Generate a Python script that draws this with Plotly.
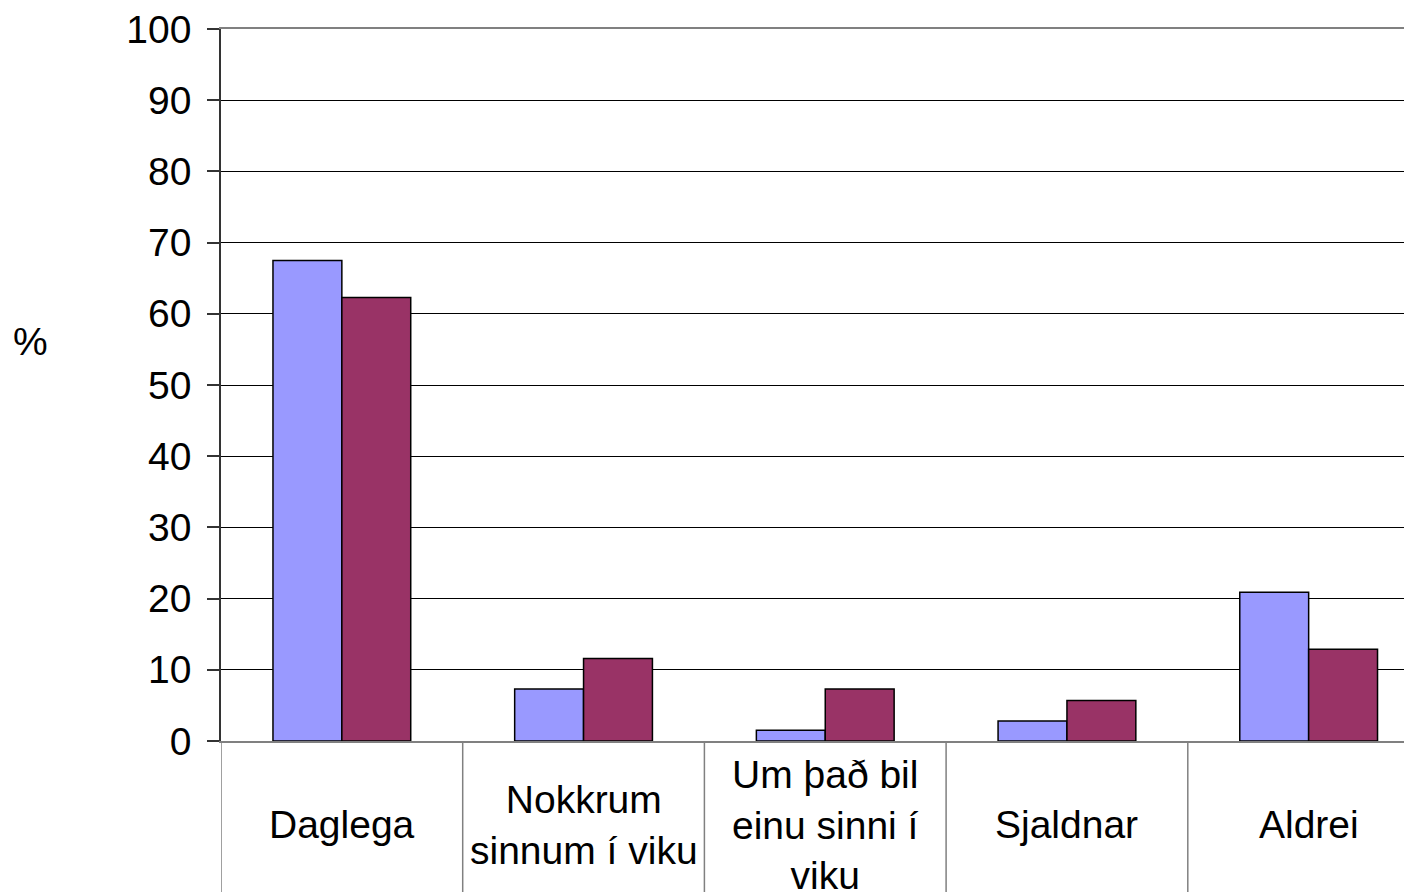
import plotly.graph_objects as go

categories = ["Daglega", "Nokkrum<br>sinnum í viku", "Um það bil<br>einu sinni í<br>viku", "Sjaldnar", "Aldrei"]
series_a = [67.5, 7.3, 1.5, 2.8, 20.9]
series_b = [62.3, 11.6, 7.3, 5.7, 12.9]
y_ticks = [0, 10, 20, 30, 40, 50, 60, 70, 80, 90, 100]

FONT = "Liberation Sans, Arial, sans-serif"
W, H = 1412, 892
OFF = 8  # page body margin
ML, MT = 221 - OFF, 27 - OFF
MB = H - (741 - OFF)
plot_h = H - MT - MB
plot_w = W - ML
cat_w = 241.7

xs = list(range(len(categories)))

fig = go.Figure()
fig.add_trace(go.Bar(x=xs, y=series_a, marker=dict(color="#9999FF", line=dict(color="#000000", width=1.5)), name="A"))
fig.add_trace(go.Bar(x=xs, y=series_b, marker=dict(color="#993366", line=dict(color="#000000", width=1.5)), name="B"))

x_max = -0.5 + plot_w / cat_w

shapes = []
for i in range(len(categories)):
    shapes.append(dict(type="line", xref="x", yref="paper", x0=i - 0.5, x1=i - 0.5,
                       y0=0, y1=-MB / plot_h, line=dict(color="#808080", width=1.5)))

annotations = []
for i, c in enumerate(categories):
    annotations.append(dict(x=i, y=-(825 - 741) / plot_h, xref="x", yref="paper", text=c,
                            showarrow=False, xanchor="center", yanchor="middle",
                            font=dict(family=FONT, size=39, color="#000000")))
annotations.append(dict(x=(30 - OFF - ML) / plot_w, y=(741 - 340) / plot_h, xref="paper", yref="paper",
                        text="%", showarrow=False, xanchor="center", yanchor="middle",
                        font=dict(family=FONT, size=39, color="#000000")))

fig.update_layout(
    width=W, height=H,
    margin=dict(l=ML, r=0, t=MT, b=MB, pad=0),
    plot_bgcolor="white", paper_bgcolor="white",
    showlegend=False,
    barmode="group", bargap=0.43, bargroupgap=0,
    shapes=shapes, annotations=annotations,
    font=dict(family=FONT, size=39, color="#000000"),
    xaxis=dict(range=[-0.5, x_max], showticklabels=False, showgrid=False, zeroline=False,
               showline=True, mirror=True, linecolor="#808080", linewidth=1.5, ticks=""),
    yaxis=dict(range=[0, 100], tickvals=y_ticks, showgrid=True, gridcolor="#000000", gridwidth=1,
               zeroline=False, showline=True, linecolor="#333333", linewidth=1.5,
               ticks="outside", ticklen=12, tickcolor="#333333", tickwidth=1.5,
               ticklabelstandoff=8, ticklabeloverflow="allow",
               tickfont=dict(family=FONT, size=39, color="#000000")),
)

fig.write_html("out.html")
